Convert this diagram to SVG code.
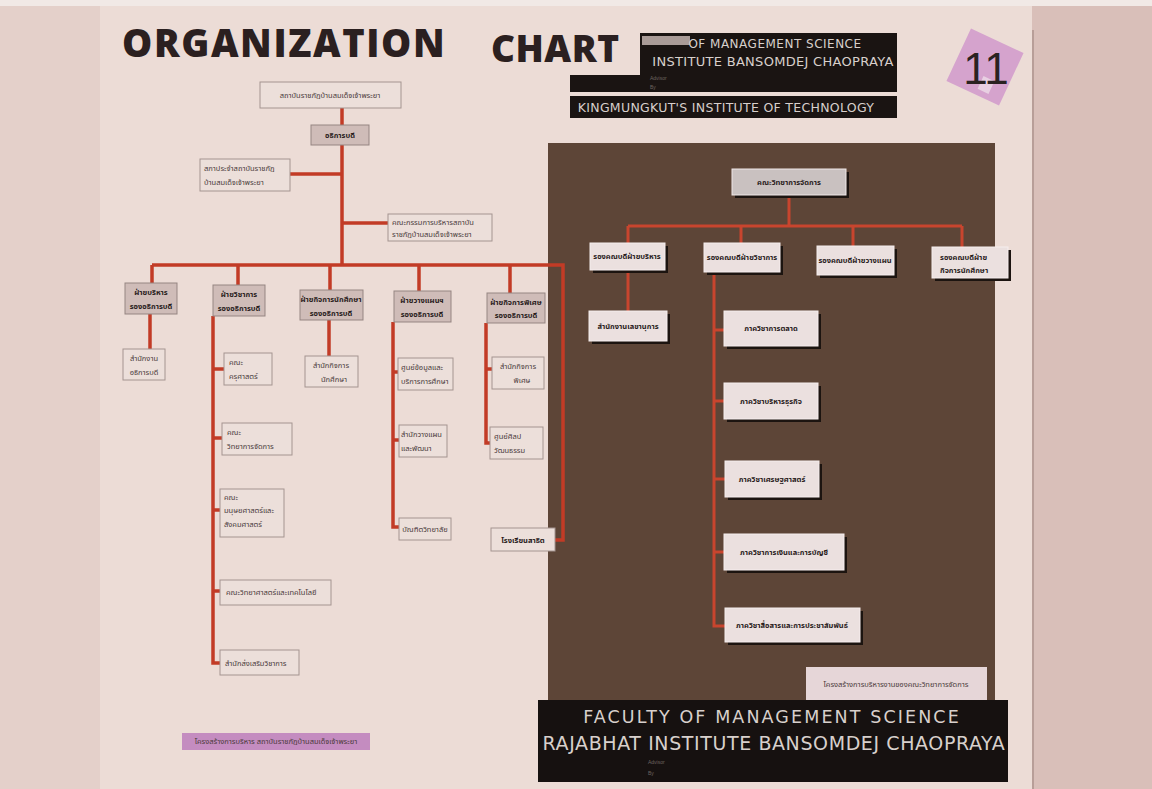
<svg xmlns="http://www.w3.org/2000/svg" width="1152" height="789" viewBox="0 0 1152 789">
<defs>
<style>
.th{font-family:"Noto Sans Thai","Noto Sans","DejaVu Sans",sans-serif;font-size:7.5px;fill:#4a3a3a}
.thb{font-family:"Noto Sans Thai","Noto Sans","DejaVu Sans",sans-serif;font-size:7.5px;fill:#2a1c1c;font-weight:bold}
.bx{fill:#ecdfda;stroke:#a49490;stroke-width:1}
.bxg{fill:#cfbcb8;stroke:#958582;stroke-width:1}
.rb{fill:#ebe0df;stroke:#f6eeee;stroke-width:1}
.rbg{fill:#c9c1c0;stroke:#f0e8e8;stroke-width:1}
.sh{fill:#1c1410}
.ln{stroke:#c23b26;stroke-width:3.5;fill:none}
.lnr{stroke:#c8452e;stroke-width:3;fill:none}
.hd{font-family:"DejaVu Sans","Liberation Sans",sans-serif;fill:#d8d0cc}
.sm{font-family:"Liberation Sans",sans-serif;font-size:5px;fill:#6e6460}
</style>
</defs>
<rect x="0" y="0" width="1152" height="789" fill="#dec6c0"/>
<rect x="0" y="0" width="110" height="789" fill="#e4d0ca"/>
<rect x="100" y="5" width="934" height="784" fill="#ecdcd6"/>
<rect x="1032" y="0" width="120" height="789" fill="#d9bfb9"/>
<rect x="0" y="0" width="1152" height="6" fill="#f1e9e6"/>
<line x1="1033" y1="30" x2="1033" y2="789" stroke="#b89e98" stroke-width="2"/>

<g id="title">
<text x="122" y="57" font-family="Open Sans,Lato,sans-serif" font-weight="800" font-size="38" fill="#2b2020" letter-spacing="1.6">ORGANIZATION</text>
<text x="491" y="62" font-family="Open Sans,Lato,sans-serif" font-weight="800" font-size="37" fill="#2b2020" letter-spacing="0.5">CHART</text>
</g>

<g id="header">
<path d="M640 33H897V92H570V75H640Z" fill="#1a1412"/>
<rect x="642" y="36" width="48" height="9" fill="#d9c8c4" opacity="0.75"/>
<text x="775" y="48" class="hd" font-size="12" text-anchor="middle" style="letter-spacing:0.5px">OF MANAGEMENT SCIENCE</text>
<text x="773" y="66" class="hd" font-size="13" text-anchor="middle" style="letter-spacing:0.3px">INSTITUTE BANSOMDEJ CHAOPRAYA</text>
<text x="650" y="80" class="sm">Advisor</text>
<text x="650" y="89" class="sm">By</text>
<rect x="570" y="96" width="327" height="22" fill="#1a1412"/>
<text x="726" y="112" class="hd" font-size="12.5" text-anchor="middle" style="letter-spacing:0.3px">KINGMUNGKUT'S INSTITUTE OF TECHNOLOGY</text>
</g>

<g id="badge">
<rect x="956" y="38" width="58" height="58" fill="#d5a3cd" transform="rotate(25 985 67)"/>
<rect x="980" y="78" width="12" height="14" fill="#e8d0e2" transform="rotate(25 986 85)"/>
<text x="986" y="84" font-family="Liberation Sans,sans-serif" font-size="44" fill="#2a2222" text-anchor="middle">11</text>
</g>

<rect id="panel" x="548" y="143" width="447" height="557" fill="#5d4537"/>

<g id="connectors">
<path class="ln" d="M342 108V265M290 174H342M342 223H388"/>
<path class="ln" d="M152 265H563V540H555M152 265V283M238 265V285M330 265V290M419 265V291M510 265V293"/>
<path class="ln" d="M150 314V349"/>
<path class="ln" d="M213 316V663H220M213 369H224M213 438H222M213 510H220M213 591H220"/>
<path class="ln" d="M329 320V356"/>
<path class="ln" d="M393 322V527H399M393 372H398M393 440H399"/>
<path class="ln" d="M486 323V443H490M486 369H492"/>
<path class="lnr" d="M789 195V226M628 226H962M628 226V243M741 226V243M853 226V246M962 226V247"/>
<path class="lnr" d="M628 270V311"/>
<path class="lnr" d="M714 272V626H725M714 330H724M714 401H724M714 479H725M714 552H724"/>
</g>

<g id="n-top"><rect class="bx" x="260" y="82" width="141" height="26"/><text class="th" x="330" y="98" text-anchor="middle">สถาบันราชภัฏบ้านสมเด็จเจ้าพระยา</text></g>
<g id="n-rector"><rect class="bxg" x="311" y="125" width="58" height="20"/><text class="thb" x="340" y="138" text-anchor="middle">อธิการบดี</text></g>
<g id="n-council"><rect class="bx" x="200" y="159" width="90" height="32"/><text class="th" x="204" y="171">สภาประจำสถาบันราชภัฏ</text><text class="th" x="204" y="185">บ้านสมเด็จเจ้าพระยา</text></g>
<g id="n-committee"><rect class="bx" x="388" y="214" width="104" height="27"/><text class="th" x="392" y="225">คณะกรรมการบริหารสถาบัน</text><text class="th" x="392" y="237">ราชภัฏบ้านสมเด็จเจ้าพระยา</text></g>

<g id="n-d1"><rect class="bxg" x="125" y="283" width="52" height="31"/><text class="thb" x="151" y="295" text-anchor="middle">ฝ่ายบริหาร</text><text class="thb" x="151" y="309" text-anchor="middle">รองอธิการบดี</text></g>
<g id="n-d2"><rect class="bxg" x="213" y="285" width="52" height="31"/><text class="thb" x="239" y="297" text-anchor="middle">ฝ่ายวิชาการ</text><text class="thb" x="239" y="311" text-anchor="middle">รองอธิการบดี</text></g>
<g id="n-d3"><rect class="bxg" x="300" y="290" width="63" height="30"/><text class="thb" x="331" y="302" text-anchor="middle">ฝ่ายกิจการนักศึกษา</text><text class="thb" x="331" y="316" text-anchor="middle">รองอธิการบดี</text></g>
<g id="n-d4"><rect class="bxg" x="394" y="291" width="57" height="31"/><text class="thb" x="422" y="303" text-anchor="middle">ฝ่ายวางแผนฯ</text><text class="thb" x="422" y="317" text-anchor="middle">รองอธิการบดี</text></g>
<g id="n-d5"><rect class="bxg" x="487" y="293" width="58" height="30"/><text class="thb" x="516" y="305" text-anchor="middle">ฝ่ายกิจการพิเศษ</text><text class="thb" x="516" y="318" text-anchor="middle">รองอธิการบดี</text></g>

<g id="n-c11"><rect class="bx" x="123" y="349" width="42" height="31"/><text class="th" x="144" y="361" text-anchor="middle">สำนักงาน</text><text class="th" x="144" y="375" text-anchor="middle">อธิการบดี</text></g>
<g id="n-c21"><rect class="bx" x="224" y="353" width="48" height="32"/><text class="th" x="229" y="365">คณะ</text><text class="th" x="229" y="379">ครุศาสตร์</text></g>
<g id="n-c22"><rect class="bx" x="222" y="423" width="70" height="32"/><text class="th" x="227" y="435">คณะ</text><text class="th" x="227" y="449">วิทยาการจัดการ</text></g>
<g id="n-c23"><rect class="bx" x="220" y="489" width="64" height="48"/><text class="th" x="224" y="500">คณะ</text><text class="th" x="224" y="513">มนุษยศาสตร์และ</text><text class="th" x="224" y="527">สังคมศาสตร์</text></g>
<g id="n-c24"><rect class="bx" x="220" y="580" width="111" height="25"/><text class="th" x="226" y="595">คณะวิทยาศาสตร์และเทคโนโลยี</text></g>
<g id="n-c25"><rect class="bx" x="220" y="650" width="79" height="25"/><text class="th" x="225" y="666">สำนักส่งเสริมวิชาการ</text></g>
<g id="n-c31"><rect class="bx" x="305" y="356" width="53" height="31"/><text class="th" x="331" y="368" text-anchor="middle">สำนักกิจการ</text><text class="th" x="334" y="382" text-anchor="middle">นักศึกษา</text></g>
<g id="n-c41"><rect class="bx" x="398" y="358" width="55" height="32"/><text class="th" x="401" y="370">ศูนย์ข้อมูลและ</text><text class="th" x="401" y="384">บริการการศึกษา</text></g>
<g id="n-c42"><rect class="bx" x="399" y="425" width="48" height="32"/><text class="th" x="401" y="437">สำนักวางแผน</text><text class="th" x="401" y="451">และพัฒนา</text></g>
<g id="n-c43"><rect class="bx" x="399" y="518" width="52" height="22"/><text class="th" x="425" y="532" text-anchor="middle">บัณฑิตวิทยาลัย</text></g>
<g id="n-c51"><rect class="bx" x="492" y="357" width="52" height="32"/><text class="th" x="518" y="369" text-anchor="middle">สำนักกิจการ</text><text class="th" x="522" y="383" text-anchor="middle">พิเศษ</text></g>
<g id="n-c52"><rect class="bx" x="490" y="427" width="53" height="32"/><text class="th" x="494" y="439">ศูนย์ศิลป</text><text class="th" x="494" y="453">วัฒนธรรม</text></g>
<g id="n-c53"><rect class="bx" x="491" y="528" width="64" height="23"/><text class="thb" x="523" y="543" text-anchor="middle">โรงเรียนสาธิต</text></g>

<g id="n-caption-left"><rect x="182" y="733" width="188" height="17" fill="#c48cc0"/><text class="th" x="276" y="744" text-anchor="middle" font-size="6.5">โครงสร้างการบริหาร สถาบันราชภัฏบ้านสมเด็จเจ้าพระยา</text></g>

<g id="n-faculty"><rect class="sh" x="735" y="172" width="114" height="26"/><rect class="rbg" x="732" y="169" width="114" height="26"/><text class="thb" x="789" y="185" text-anchor="middle">คณะวิทยาการจัดการ</text></g>
<g id="n-v1"><rect class="sh" x="593" y="246" width="75" height="27"/><rect class="rb" x="590" y="243" width="75" height="27"/><text class="thb" x="627" y="259" text-anchor="middle">รองคณบดีฝ่ายบริหาร</text></g>
<g id="n-v2"><rect class="sh" x="707" y="246" width="76" height="29"/><rect class="rb" x="704" y="243" width="76" height="29"/><text class="thb" x="742" y="260" text-anchor="middle">รองคณบดีฝ่ายวิชาการ</text></g>
<g id="n-v3"><rect class="sh" x="820" y="249" width="77" height="29"/><rect class="rb" x="817" y="246" width="77" height="29"/><text class="thb" x="855" y="263" text-anchor="middle">รองคณบดีฝ่ายวางแผน</text></g>
<g id="n-v4"><rect class="sh" x="935" y="250" width="76" height="31"/><rect class="rb" x="932" y="247" width="76" height="31"/><text class="thb" x="940" y="260">รองคณบดีฝ่าย</text><text class="thb" x="940" y="273">กิจการนักศึกษา</text></g>
<g id="n-sec"><rect class="sh" x="592" y="314" width="78" height="30"/><rect class="rb" x="589" y="311" width="78" height="30"/><text class="thb" x="628" y="329" text-anchor="middle">สำนักงานเลขานุการ</text></g>
<g id="n-p1"><rect class="sh" x="727" y="314" width="94" height="35"/><rect class="rb" x="724" y="311" width="94" height="35"/><text class="thb" x="771" y="331" text-anchor="middle">ภาควิชาการตลาด</text></g>
<g id="n-p2"><rect class="sh" x="727" y="386" width="94" height="36"/><rect class="rb" x="724" y="383" width="94" height="36"/><text class="thb" x="771" y="404" text-anchor="middle">ภาควิชาบริหารธุรกิจ</text></g>
<g id="n-p3"><rect class="sh" x="728" y="464" width="94" height="36"/><rect class="rb" x="725" y="461" width="94" height="36"/><text class="thb" x="772" y="482" text-anchor="middle">ภาควิชาเศรษฐศาสตร์</text></g>
<g id="n-p4"><rect class="sh" x="727" y="537" width="120" height="36"/><rect class="rb" x="724" y="534" width="120" height="36"/><text class="thb" x="784" y="555" text-anchor="middle">ภาควิชาการเงินและการบัญชี</text></g>
<g id="n-p5"><rect class="sh" x="728" y="611" width="135" height="34"/><rect class="rb" x="725" y="608" width="135" height="34"/><text class="thb" x="792" y="628" text-anchor="middle">ภาควิชาสื่อสารและการประชาสัมพันธ์</text></g>

<g id="n-caption-right"><rect x="806" y="667" width="181" height="34" fill="#e6d6d8"/><text class="th" x="896" y="687" text-anchor="middle" font-size="6.5">โครงสร้างการบริหารงานของคณะวิทยาการจัดการ</text></g>

<g id="footer">
<rect x="538" y="700" width="470" height="82" fill="#161110"/>
<text x="772" y="723" class="hd" font-size="17.5" text-anchor="middle" style="letter-spacing:2.1px">FACULTY OF MANAGEMENT SCIENCE</text>
<text x="774" y="750" class="hd" font-size="19" text-anchor="middle" style="letter-spacing:0.6px">RAJABHAT INSTITUTE BANSOMDEJ CHAOPRAYA</text>
<text x="648" y="764" class="sm">Advisor</text>
<text x="648" y="775" class="sm">By</text>
</g>
</svg>
